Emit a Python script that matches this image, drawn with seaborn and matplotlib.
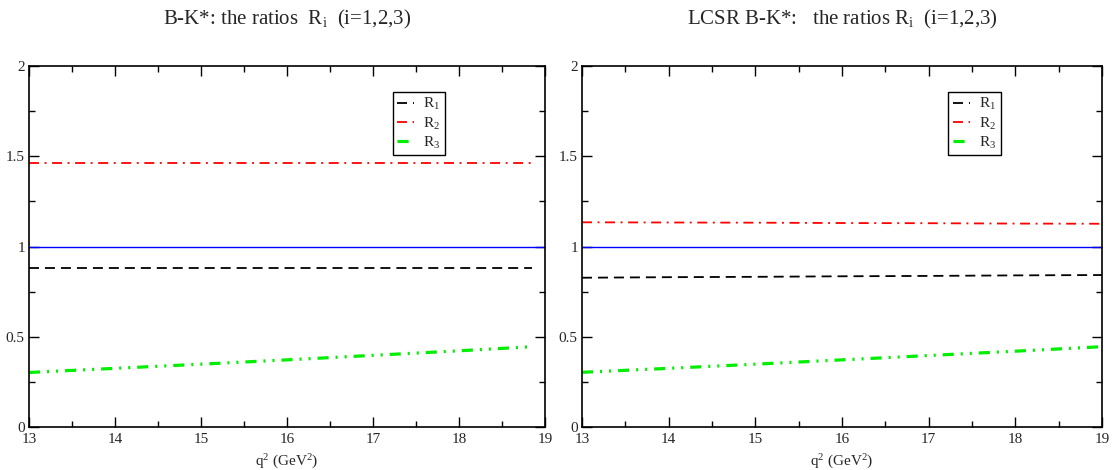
import pandas as pd
import matplotlib
matplotlib.use('Agg')
import matplotlib.pyplot as plt
from matplotlib.ticker import MultipleLocator, FormatStrFormatter
import seaborn as sns

# values
q2_left = [13, 14, 15, 16, 17, 18, 18.85]
r1_left = [0.883, 0.883, 0.883, 0.883, 0.883, 0.883, 0.883]
r2_left = [1.465, 1.465, 1.465, 1.465, 1.465, 1.465, 1.465]
r3_left = [0.302, 0.325, 0.348, 0.372, 0.397, 0.422, 0.445]

q2_right = [13, 14, 15, 16, 17, 18, 19]
r1_right = [0.827, 0.830, 0.832, 0.835, 0.837, 0.840, 0.842]
r2_right = [1.134, 1.133, 1.132, 1.130, 1.129, 1.127, 1.126]
r3_right = [0.303, 0.325, 0.348, 0.372, 0.396, 0.420, 0.445]

unit_x = [13, 19]
unit_y = [1, 1]

titles = [r'B-K*: the ratios  R$_{\mathrm{i}}$  (i=1,2,3)',
          r'LCSR B-K*:   the ratios R$_{\mathrm{i}}$  (i=1,2,3)']
labels = [r'R$_{1}$', r'R$_{2}$', r'R$_{3}$']

sns.set_style('ticks')
plt.rcParams['font.family'] = ['Liberation Serif', 'DejaVu Serif']
plt.rcParams['mathtext.fontset'] = 'custom'
plt.rcParams['mathtext.rm'] = 'Liberation Serif'
plt.rcParams['mathtext.it'] = 'Liberation Serif:italic'
plt.rcParams['lines.scale_dashes'] = False

fig = plt.figure(figsize=(11.15, 4.7), dpi=100)
ax1 = fig.add_axes([29 / 1115, 43 / 470, 516 / 1115, 361 / 470])
ax2 = fig.add_axes([582 / 1115, 43 / 470, 520 / 1115, 361 / 470])

styles = [
    dict(color='black', lw=1.3, dashes=(7.2, 4.3)),
    dict(color='#ff0000', lw=1.3, dashes=(7.2, 4, 1.4, 4)),
    dict(color='#00ee00', lw=2.3, dashes=(8, 5, 1.5, 5, 1.5, 5)),
]

panels = [
    (ax1, q2_left, [r1_left, r2_left, r3_left]),
    (ax2, q2_right, [r1_right, r2_right, r3_right]),
]

for i, (ax, q2, series) in enumerate(panels):
    sns.lineplot(x=unit_x, y=unit_y, ax=ax, color='#0000ff', lw=1.0)
    for lab, vals, st in zip(labels, series, styles):
        df = pd.DataFrame({'q2': q2, 'R': vals})
        sns.lineplot(data=df, x='q2', y='R', ax=ax, label=lab,
                     color=st['color'], lw=st['lw'], dashes=st['dashes'])

    ax.set_xlim(13, 19)
    ax.set_ylim(0, 2)
    ax.xaxis.set_major_locator(MultipleLocator(1))
    ax.xaxis.set_minor_locator(MultipleLocator(0.5))
    ax.yaxis.set_major_locator(MultipleLocator(0.5))
    ax.yaxis.set_minor_locator(MultipleLocator(0.25))
    ax.yaxis.set_major_formatter(FormatStrFormatter('%g'))
    ax.tick_params(which='both', direction='in', top=True, right=True,
                   labelsize=11, width=1.0, color='black')
    ax.tick_params(which='major', length=7)
    ax.tick_params(which='minor', length=4)
    ax.tick_params(axis='x', which='major', pad=4)
    ax.tick_params(axis='y', which='major', pad=3)
    for sp in ax.spines.values():
        sp.set_linewidth(1.2)
        sp.set_color('black')

    ax.set_xlabel(r'q$^{2}$ (GeV$^{2}$)', fontsize=11, labelpad=5)
    ax.set_ylabel('')
    ax.set_title(titles[i], fontsize=15, pad=30)

    leg = ax.legend(loc='upper left', bbox_to_anchor=(0.69, 0.95),
                    fontsize=11, handlelength=1.1, handletextpad=0.6,
                    borderpad=0.3, labelspacing=0.2, fancybox=False,
                    framealpha=1, edgecolor='black')
    leg.get_frame().set_linewidth(1.0)

# lift the 0 label a little so it clears the 13 below it
for ax in (ax1, ax2):
    ax.get_yticklabels()[0].set_va('bottom')

fig.savefig('out.png', dpi=100)
